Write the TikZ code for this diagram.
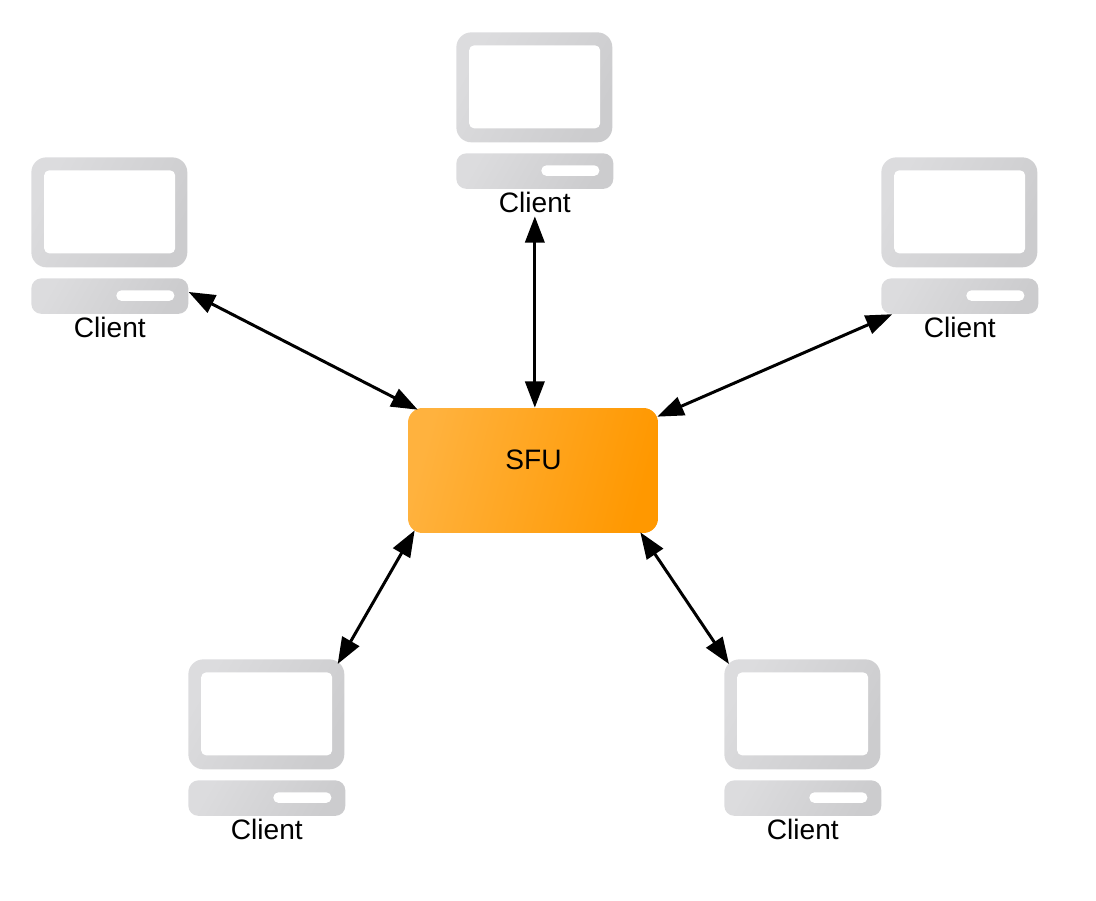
\documentclass[tikz,border=0pt]{standalone}
\usepackage{fontspec}
\setmainfont{Liberation Sans}
\usetikzlibrary{arrows.meta, positioning, calc}
\definecolor{sfulight}{RGB}{255,178,62}
\definecolor{sfudark}{RGB}{255,152,0}
\definecolor{pclight}{RGB}{220,220,222}
\definecolor{pcdark}{RGB}{204,204,206}
\tikzset{
  screenbox/.style={anchor=north west, minimum width=3.12cm, minimum height=2.2cm, inner sep=0pt,
    rounded corners=0.3cm, left color=pclight, right color=pcdark, shading angle=60},
  screenhole/.style={anchor=north west, minimum width=2.62cm, minimum height=1.66cm, inner sep=0pt,
    rounded corners=0.1cm, fill=white},
  basebox/.style={anchor=north west, minimum width=3.14cm, minimum height=0.71cm, inner sep=0pt,
    rounded corners=0.2cm, left color=pclight, right color=pcdark, shading angle=60},
  baseslit/.style={anchor=north west, minimum width=1.16cm, minimum height=0.21cm, inner sep=0pt,
    rounded corners=0.1cm, fill=white},
  clientlabel/.style={inner sep=2pt, font=\fontsize{16}{19}\selectfont},
  sfubox/.style={minimum width=5cm, minimum height=2.5cm, inner sep=0pt, rounded corners=0.29cm,
    left color=sfulight, right color=sfudark, shading angle=75},
  link/.style={line width=1.7pt, {Triangle[length=15pt,width=11pt]}-{Triangle[length=15pt,width=11pt]}}
}
\begin{document}
\begin{tikzpicture}[x=0.02cm, y=-0.02cm, node distance=-0.7pt]
\useasboundingbox (0,0) rectangle (1096,900);

% Postes clients
\foreach \cl/\px/\py in {T/456/32, L/31/157, R/881/157, A/188/659, B/724/659} {
  \node[screenbox] (scr\cl) at (\px,\py) {};
  \node[screenhole] (hole\cl) at (\px+12.8,\py+13) {};
  \node[basebox] (base\cl) at (\px,\py+121) {};
  \node[baseslit] (slit\cl) at (\px+85,\py+133) {};
  \node[clientlabel, below=of base\cl] (client\cl) {Client};
}

% Serveur
\node[sfubox] (sfu) at (533,470.5) {};
\node[font=\fontsize{16}{19}\selectfont] (sfutext) at (533.5,460) {SFU};

% Extremites des liens
\coordinate (sfuNW) at ($(sfu.north west)+(10,2)$);
\coordinate (sfuNE) at ($(sfu.north east)+(-1,9)$);
\coordinate (sfuSW) at ($(sfu.south west)+(7,-3)$);
\coordinate (sfuSE) at ($(sfu.south east)+(-18,-1)$);
\coordinate (scrAend) at ($(scrA.north east)+(-7,5)$);
\coordinate (scrBend) at ($(scrB.north west)+(5,5)$);

% Liens
\draw[link] (clientT.south) -- (clientT.south |- sfu.north);
\draw[link] (baseL.3.6) -- (sfuNW);
\draw[link] (baseR.195.2) -- (sfuNE);
\draw[link] (scrAend) -- (sfuSW);
\draw[link] (scrBend) -- (sfuSE);

\end{tikzpicture}
\end{document}
